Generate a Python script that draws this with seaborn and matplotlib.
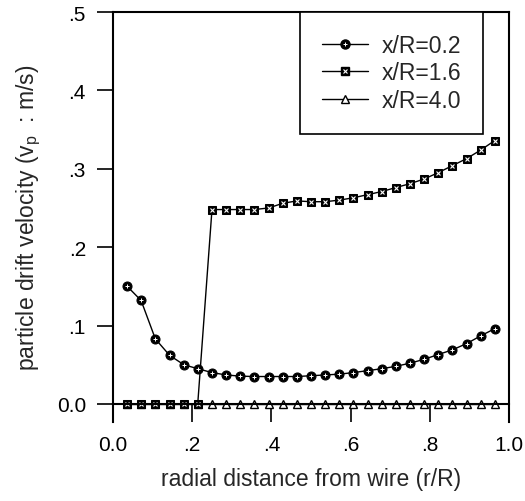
import matplotlib
matplotlib.use("Agg")
import matplotlib.pyplot as plt
import seaborn as sns
import pandas as pd
from matplotlib.lines import Line2D
from matplotlib.legend_handler import HandlerTuple

# ---- data ----
r_over_R = [0.036, 0.071, 0.107, 0.143, 0.179, 0.214, 0.250, 0.286, 0.321,
            0.357, 0.393, 0.429, 0.464, 0.500, 0.536, 0.571, 0.607, 0.643,
            0.679, 0.714, 0.750, 0.786, 0.821, 0.857, 0.893, 0.929, 0.964]
v_02 = [0.150, 0.132, 0.083, 0.062, 0.050, 0.045, 0.040, 0.037, 0.0355,
        0.035, 0.035, 0.035, 0.035, 0.036, 0.037, 0.038, 0.040, 0.0425,
        0.045, 0.048, 0.052, 0.057, 0.063, 0.069, 0.077, 0.087, 0.096]
v_16 = [0.0, 0.0, 0.0, 0.0, 0.0, 0.0, 0.248, 0.248, 0.248,
        0.248, 0.250, 0.256, 0.259, 0.258, 0.258, 0.260, 0.263, 0.267,
        0.271, 0.276, 0.281, 0.287, 0.295, 0.304, 0.313, 0.324, 0.336]
v_40 = [0.0, 0.0, 0.0, 0.0, 0.0, 0.0, 0.0, 0.0, 0.0,
        0.0, 0.0, 0.0, 0.0, 0.0, 0.0, 0.0, 0.0, 0.0,
        0.0, 0.0, 0.0, 0.0, 0.0, 0.0, 0.0, 0.0, 0.0]
series_labels = ["x/R=0.2", "x/R=1.6", "x/R=4.0"]
x_ticks = [0.0, 0.2, 0.4, 0.6, 0.8, 1.0]
x_ticklabels = ["0.0", ".2", ".4", ".6", ".8", "1.0"]
y_ticks = [0.0, 0.1, 0.2, 0.3, 0.4, 0.5]
y_ticklabels = ["0.0", ".1", ".2", ".3", ".4", ".5"]

df = pd.DataFrame({"r": r_over_R, "v02": v_02, "v16": v_16, "v40": v_40})

sns.set_style("ticks")
plt.rcParams["font.family"] = ["Liberation Sans", "DejaVu Sans"]
plt.rcParams["mathtext.fontset"] = "custom"
plt.rcParams["mathtext.rm"] = "Liberation Sans"

fig = plt.figure(figsize=(5.25, 5.02), dpi=100)
ax = fig.add_axes([0.2152, 0.1574, 0.7543, 0.8167])

lw = 1.0
tri_kw = dict(marker="^", markersize=5.5, markerfacecolor="white",
              markeredgecolor="black", markeredgewidth=1.0)
sq_kw = dict(marker="s", markersize=6, markerfacecolor="black",
             markeredgecolor="black")
sq_ov = dict(marker="x", markersize=2.6, markeredgecolor="white",
             markeredgewidth=0.8)
ci_kw = dict(marker="o", markersize=6.5, markerfacecolor="black",
             markeredgecolor="black")
ci_ov = dict(marker="+", markersize=3, markeredgecolor="white",
             markeredgewidth=0.7)

# x/R = 4.0 : open triangles
sns.lineplot(data=df, x="r", y="v40", ax=ax, color="black", lw=lw,
             legend=False, **tri_kw)
# x/R = 1.6 : hatched squares
sns.lineplot(data=df, x="r", y="v16", ax=ax, color="black", lw=lw,
             legend=False, **sq_kw)
ax.plot(df["r"], df["v16"], ls="none", **sq_ov)
# x/R = 0.2 : dotted circles
sns.lineplot(data=df, x="r", y="v02", ax=ax, color="black", lw=lw,
             legend=False, **ci_kw)
ax.plot(df["r"], df["v02"], ls="none", **ci_ov)

ax.set_xlim(0.0, 1.0)
ax.set_ylim(-0.023, 0.5)
ax.set_xticks(x_ticks)
ax.set_xticklabels(x_ticklabels)
ax.set_yticks(y_ticks)
ax.set_yticklabels(y_ticklabels)
ax.spines["bottom"].set_position(("data", 0.0))
for s in ax.spines.values():
    s.set_linewidth(1.5)
    s.set_color("black")
ax.tick_params(axis="x", direction="out", length=13, width=1.2,
               labelsize=15, pad=9, colors="black")
ax.tick_params(axis="y", direction="out", length=11.5, width=1.2,
               labelsize=15, pad=8, colors="black")

ax.set_xlabel("radial distance from wire (r/R)", fontsize=16.5, labelpad=10)
ax.set_ylabel(r"particle drift velocity (v$_\mathregular{p}$  : m/s)",
              fontsize=16.5, labelpad=10)

# legend
h02 = (Line2D([], [], color="black", lw=lw, **ci_kw),
       Line2D([], [], ls="none", **ci_ov))
h16 = (Line2D([], [], color="black", lw=lw, **sq_kw),
       Line2D([], [], ls="none", **sq_ov))
h40 = Line2D([], [], color="black", lw=lw, **tri_kw)
leg = ax.legend([h02, h16, h40], series_labels,
                handler_map={tuple: HandlerTuple(ndivide=1, pad=0)},
                loc="upper right", bbox_to_anchor=(0.934, 1.0),
                fontsize=16.5, frameon=True, fancybox=False,
                edgecolor="black", framealpha=1, borderpad=0.95,
                labelspacing=0.2, handlelength=2.0, handletextpad=0.6,
                borderaxespad=0.0)
leg.get_frame().set_linewidth(1.2)

fig.savefig("out.png", dpi=100)
